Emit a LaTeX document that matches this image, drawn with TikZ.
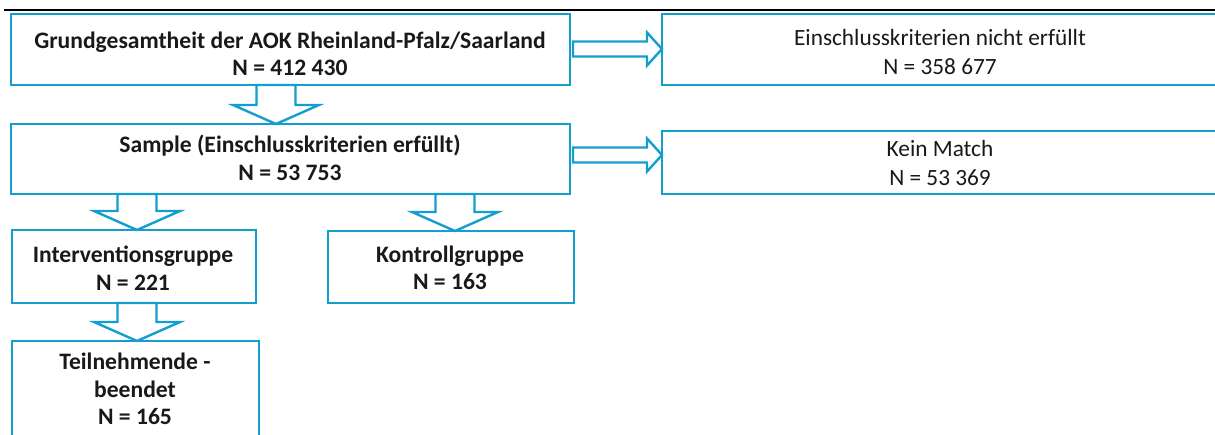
\documentclass[tikz,border=0pt]{standalone}
\usepackage{fontspec}
\setmainfont{Carlito}
\usetikzlibrary{calc}
\definecolor{bl}{RGB}{20,158,208}
\definecolor{tx}{RGB}{25,25,25}
\newcommand\dnarrow[3]{%
 \draw[barrow] let \p1=(#1.south), \p2=(#2.north) in
 (#3pt-19.5pt,\y1) -- (#3pt+19.5pt,\y1) -- (#3pt+19.5pt,\y2+19pt) -- (#3pt+43pt,\y2+19pt)
 -- (#3pt,\y2) -- (#3pt-43pt,\y2+19pt) -- (#3pt-19.5pt,\y2+19pt) -- cycle;}
\newcommand\rtarrow[3]{%
 \draw[barrow] let \p1=(#1.east), \p2=(#2.west) in
 (\x1+3pt,-#3pt+7.5pt) -- (\x2-15pt,-#3pt+7.5pt) -- (\x2-15pt,-#3pt+16.5pt) -- (\x2,-#3pt)
 -- (\x2-15pt,-#3pt-16.5pt) -- (\x2-15pt,-#3pt-7.5pt) -- (\x1+3pt,-#3pt-7.5pt) -- cycle;}
\begin{document}
\begin{tikzpicture}[x=1pt,y=-1pt,
 box/.style={draw=bl,line width=2.4pt,fill=white,anchor=north west,inner sep=0pt,outer sep=0pt},
 barrow/.style={draw=bl,line width=2.4pt,fill=white,line join=miter},
 bt/.style={font=\fontsize{23.6}{27.5}\selectfont\bfseries,text=tx,align=center,inner sep=0pt},
 rt/.style={font=\fontsize{23.3}{28.5}\selectfont,text=tx,align=center,inner sep=0pt}]
\useasboundingbox (0,0) rectangle (1215,435);
\clip (0,0) rectangle (1215,435);
\draw[line width=2pt] (4,10) -- (1215,10);
% boxes
\node[box,minimum width=559pt,minimum height=71pt] (b1) at (11,14) {};
\node[box,minimum width=563pt,minimum height=71pt] (r1) at (662,14) {};
\node[box,minimum width=559pt,minimum height=70pt] (b2) at (11,124) {};
\node[box,minimum width=563pt,minimum height=63pt] (r2) at (662,131) {};
\node[box,minimum width=244pt,minimum height=73pt] (b3) at (12,230) {};
\node[box,minimum width=246pt,minimum height=72pt] (b4) at (328,231) {};
\node[box,minimum width=247pt,minimum height=110pt] (b5) at (12,341) {};
% arrows
\rtarrow{b1}{r1}{49}
\rtarrow{b2}{r2}{155}
\dnarrow{b1}{b2}{276}
\dnarrow{b2}{b3}{137}
\dnarrow{b2}{b4}{455}
\dnarrow{b3}{b5}{137}
% texts
\node[bt] (t1) at (290,54) {Grundgesamtheit der AOK Rheinland-Pfalz/Saarland\\N = 412 430};
\node[rt] (t2) at (940,52) {Einschlusskriterien nicht erfüllt\\N = 358 677};
\node[bt] (t3) at (290,158) {Sample (Einschlusskriterien erfüllt)\\N = 53 753};
\node[rt] (t4) at (940,163) {Kein Match\\N = 53 369};
\node[bt] (t5) at (133,268) {Interventionsgruppe\\N = 221};
\node[bt] (t6) at (450,268) {Kontrollgruppe\\N = 163};
\node[bt] (t7) at (135,389) {Teilnehmende -\\beendet\\N = 165};
\end{tikzpicture}
\end{document}
